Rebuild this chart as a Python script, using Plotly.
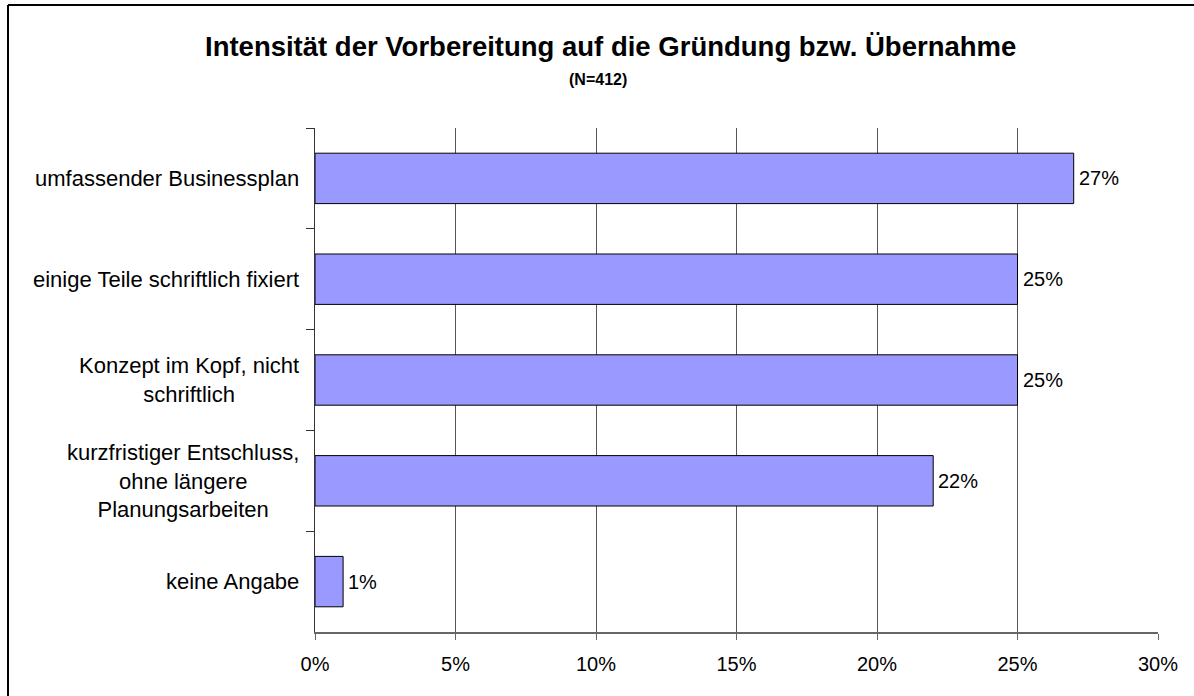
import plotly.graph_objects as go

categories = [
    "umfassender Businessplan",
    "einige Teile schriftlich fixiert",
    "Konzept im Kopf, nicht<br>schriftlich",
    "kurzfristiger Entschluss,<br>ohne längere<br>Planungsarbeiten",
    "keine Angabe",
]
values = [0.27, 0.25, 0.25, 0.22, 0.01]
value_labels = ["27%", "25%", "25%", "22%", "1%"]
x_ticks = [0, 0.05, 0.10, 0.15, 0.20, 0.25, 0.30]
title = "Intensität der Vorbereitung auf die Gründung bzw. Übernahme"
subtitle = "(N=412)"

FONT = "Liberation Sans, Arial, sans-serif"
W, H = 1194, 696
L, R, T, B = 315, 36, 128, 64
PW, PH = W - L - R, H - T - B

fig = go.Figure(go.Bar(
    y=categories, x=values, orientation="h",
    marker=dict(color="#9999FF", line=dict(color="black", width=1)),
    hoverinfo="x+y",
))

annotations = []
for cat, v, lab in zip(categories, values, value_labels):
    annotations.append(dict(
        x=0, xref="paper", y=cat, yref="y", text=cat, showarrow=False,
        xanchor="right", yanchor="middle", align="center", xshift=-14,
        font=dict(family=FONT, size=22, color="black"),
    ))
    annotations.append(dict(
        x=v, xref="x", y=cat, yref="y", text=lab, showarrow=False,
        xanchor="left", yanchor="middle", xshift=3,
        font=dict(family=FONT, size=20, color="black"),
    ))

annotations.append(dict(x=(610 - L) / PW, xref="paper", y=(H - B - 47) / PH, yref="paper",
                        text="<b>" + title + "</b>", showarrow=False, xanchor="center", yanchor="middle",
                        font=dict(family=FONT, size=27.5, color="black")))
annotations.append(dict(x=(598 - L) / PW, xref="paper", y=(H - B - 80) / PH, yref="paper",
                        text="<b>" + subtitle + "</b>", showarrow=False, xanchor="center", yanchor="middle",
                        font=dict(family=FONT, size=16, color="black")))

x0 = (8 - L) / PW
ytop = (H - B - 5) / PH
shapes = [
    dict(type="line", xref="paper", yref="paper", x0=x0, x1=x0, y0=-0.5, y1=ytop, line=dict(color="black", width=2)),
    dict(type="line", xref="paper", yref="paper", x0=x0, x1=1.2, y0=ytop, y1=ytop, line=dict(color="black", width=2)),
]

fig.update_layout(
    width=W, height=H,
    margin=dict(l=L, r=R, t=T, b=B),
    paper_bgcolor="white", plot_bgcolor="white",
    showlegend=False, bargap=0.5,
    annotations=annotations, shapes=shapes,
    font=dict(family=FONT, size=20, color="black"),
)
fig.update_xaxes(
    range=[0, 0.30], tickvals=x_ticks, tickformat=".0%",
    showgrid=True, gridcolor="#555555", gridwidth=1,
    showline=True, linecolor="#666666", linewidth=2,
    ticks="outside", ticklen=6, tickcolor="#666666",
    ticklabelstandoff=7,
    tickfont=dict(family=FONT, size=20, color="black"),
    zeroline=False,
)
fig.update_yaxes(
    autorange="reversed", showticklabels=False,
    showline=True, linecolor="#333333", linewidth=1,
    ticks="outside", ticklen=8, tickcolor="#333333", tickson="boundaries",
    showgrid=False,
)
fig.write_html("out.html", config={"displayModeBar": False},
               post_script="document.body.style.margin='0px';")
